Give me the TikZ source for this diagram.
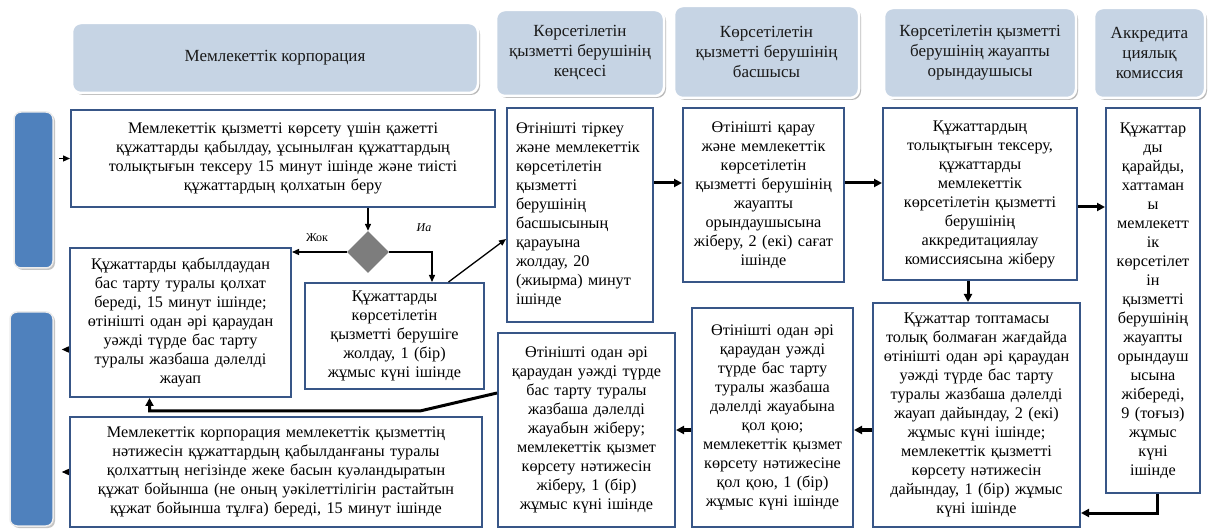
\documentclass[tikz,border=0pt]{standalone}
\usepackage{fontspec}
\setmainfont{Liberation Serif}
\usetikzlibrary{arrows.meta,shapes.geometric,shadows}
\definecolor{boxblue}{RGB}{56,86,135}
\definecolor{headfill}{RGB}{198,212,228}
\definecolor{barblue}{RGB}{79,129,189}
\definecolor{diagrey}{RGB}{125,125,125}
\tikzset{
  procbox/.style={draw=boxblue,line width=2pt,fill=white,align=center,inner sep=4pt,font=\fontsize{16.2}{19}\selectfont},
  headbox/.style={rounded corners=9pt,fill=headfill,draw=white,line width=2.5pt,align=center,
    font=\fontsize{17}{20}\selectfont,text=black!90,
    drop shadow={shadow xshift=2pt,shadow yshift=-2pt,fill=black!45,opacity=.6}},
  lanebar/.style={rounded corners=7pt,fill=barblue,draw=white!85!gray,line width=1.5pt,
    drop shadow={shadow xshift=2pt,shadow yshift=-2pt,fill=black!45,opacity=.5}},
  arr/.style={-{Triangle[length=7pt,width=6pt]},line width=1.3pt},
  thickarr/.style={-{Triangle[length=8pt,width=8pt]},line width=3pt},
}
\begin{document}
\begin{tikzpicture}[x=1pt,y=-1pt]
    \useasboundingbox (0,0) rectangle (1211,529);
    % headers
    \node[headbox,minimum width=406pt,minimum height=70pt] (hcorp) at (275,58) {Мемлекеттік корпорация};
    \node[headbox,minimum width=168pt,minimum height=86pt] (hkense) at (580,53) {Көрсетілетін\\қызметті берушінің\\кеңсесі};
    \node[headbox,minimum width=185pt,minimum height=92pt] (hbasshy) at (766.5,52) {Көрсетілетін\\қызметті берушінің\\басшысы};
    \node[headbox,minimum width=192pt,minimum height=90pt] (horyn) at (980,53) {Көрсетілетін қызметті\\берушінің жауапты\\орындаушысы};
    \node[headbox,minimum width=111pt,minimum height=90pt] (hkomis) at (1149.5,53) {Аккредита\\циялық\\комиссия};
    % lanes
    \node[lanebar,minimum width=39pt,minimum height=156pt] (lane1) at (33.5,190) {};
    \node[lanebar,minimum width=43pt,minimum height=214pt] (lane2) at (31.5,419) {};
    % steps
    \node[procbox,minimum width=424pt,minimum height=97pt,text width=410pt] (qabyl) at (283,158.5)
      {Мемлекеттік қызметті көрсету үшін қажетті\\құжаттарды қабылдау, ұсынылған құжаттардың\\толықтығын тексеру 15 минут ішінде және тиісті\\құжаттардың қолхатын беру};
    \node[diamond,fill=diagrey,minimum width=42pt,minimum height=42pt,inner sep=0pt] (dia) at (368,252) {};
    \node[procbox,minimum width=221pt,minimum height=149pt,text width=215pt,inner xsep=2pt] (bastart) at (180.5,322.5)
      {Құжаттарды қабылдаудан\\бас тарту туралы қолхат\\береді, 15 минут ішінде;\\өтінішті одан әрі қараудан\\уәжді түрде бас тарту\\туралы жазбаша дәлелді\\жауап};
    \node[procbox,minimum width=179pt,minimum height=106pt,text width=170pt] (zholdau) at (394.5,336)
      {Құжаттарды\\көрсетілетін\\қызметті берушіге\\жолдау, 1 (бір)\\жұмыс күні ішінде};
    \node[procbox,align=left,minimum width=146pt,minimum height=214pt,text width=128pt] (tirkeu) at (580,215)
      {Өтінішті тіркеу\\және мемлекеттік\\көрсетілетін\\қызметті\\берушінің\\басшысының\\қарауына\\жолдау, 20\\(жиырма) минут\\ішінде};
    \node[procbox,minimum width=161pt,minimum height=174pt,text width=155pt,inner xsep=2pt] (qarau) at (763.5,195)
      {Өтінішті қарау\\және мемлекеттік\\көрсетілетін\\қызметті берушінің\\жауапты\\орындаушысына\\жіберу, 2 (екі) сағат\\ішінде};
    \node[procbox,minimum width=194pt,minimum height=172pt,text width=186pt] (tekseru) at (980,194)
      {Құжаттардың\\толықтығын тексеру,\\құжаттарды\\мемлекеттік\\көрсетілетін қызметті\\берушінің\\аккредитациялау\\комиссиясына жіберу};
    \node[procbox,minimum width=94pt,minimum height=385pt,text width=88pt,inner sep=2pt] (komis) at (1153,300.5)
      {Құжаттар\\ды\\қарайды,\\хаттаман\\ы\\мемлекетт\\ік\\көрсетілет\\ін\\қызметті\\берушінің\\жауапты\\орындауш\\ысына\\жібереді,\\9 (тоғыз)\\жұмыс\\күні\\ішінде};
    \node[procbox,minimum width=207pt,minimum height=224pt,text width=204pt,inner xsep=1pt] (dayyn) at (976.5,415)
      {Құжаттар топтамасы\\толық болмаған жағдайда\\өтінішті одан әрі қараудан\\уәжді түрде бас тарту\\туралы жазбаша дәлелді\\жауап дайындау, 2 (екі)\\жұмыс күні ішінде;\\мемлекеттік қызметті\\көрсету нәтижесін\\дайындау, 1 (бір) жұмыс\\күні ішінде};
    \node[procbox,minimum width=161pt,minimum height=219pt,text width=156pt,inner xsep=2pt] (qolqoy) at (772.5,417.5)
      {Өтінішті одан әрі\\қараудан уәжді\\түрде бас тарту\\туралы жазбаша\\дәлелді жауабына\\қол қою;\\мемлекеттік қызмет\\көрсету нәтижесіне\\қол қою, 1 (бір)\\жұмыс күні ішінде};
    \node[procbox,minimum width=177pt,minimum height=194pt,text width=172pt,inner xsep=2pt] (zhiber) at (586.5,430)
      {Өтінішті одан әрі\\қараудан уәжді түрде\\бас тарту туралы\\жазбаша дәлелді\\жауабын жіберу;\\мемлекеттік қызмет\\көрсету нәтижесін\\жіберу, 1 (бір)\\жұмыс күні ішінде};
    \node[procbox,minimum width=412pt,minimum height=110pt,text width=404pt] (beredi) at (276,472)
      {Мемлекеттік корпорация мемлекеттік қызметтің\\нәтижесін құжаттардың қабылданғаны туралы\\қолхаттың негізінде жеке басын куәландыратын\\құжат бойынша (не оның уәкілеттілігін растайтын\\құжат бойынша тұлға) береді, 15 минут ішінде};
    % labels
    \node[font=\fontsize{12}{14}\selectfont] (zhok) at (317,238) {Жок};
    \node[font=\fontsize{12}{14}\selectfont\itshape] (ia) at (424,228) {Иа};
    % connectors
    \coordinate (lane1r) at ([xshift=5pt]lane1.east);
    \coordinate (lane2r) at ([xshift=8pt]lane2.east);
    \coordinate (iaturn) at (432,252);
    \coordinate (kink) at (420,411);
    \coordinate (b2in) at ([xshift=-31pt]bastart.south);
    \draw[arr] (lane1r |- qabyl.west) -- (qabyl.west);
    \draw[arr] (dia.north |- qabyl.south) -- (dia.north);
    \draw[arr] (dia.west) -- (dia.west -| bastart.east);
    \draw[arr] (dia.east) -- (iaturn) -- (iaturn |- zholdau.north);
    \draw[arr] ([xshift=54pt]zholdau.north) -- ([yshift=-24pt]tirkeu.west);
    \draw[thickarr] ([yshift=12pt]qarau.west -| tirkeu.east) -- ([yshift=12pt]qarau.west);
    \draw[thickarr] ([yshift=12pt]qarau.east) -- ([yshift=12pt]qarau.east -| tekseru.west);
    \draw[thickarr] ([yshift=-13pt]tekseru.east) -- ([yshift=-13pt]tekseru.east -| komis.west);
    \draw[thickarr] ([xshift=-12pt]tekseru.south) -- ([xshift=-12pt]tekseru.south |- dayyn.north);
    \draw[thickarr] ([xshift=4pt]komis.south) |- ([yshift=-98pt]dayyn.east);
    \draw[thickarr] ([yshift=-15pt]dayyn.west) -- ([yshift=-15pt]dayyn.west -| qolqoy.east);
    \draw[thickarr] (zhiber.east -| qolqoy.west) -- (zhiber.east);
    \draw[thickarr] ([yshift=37pt]zhiber.west) -- (kink) -- (kink -| b2in) -- (b2in);
    \draw[arr] ([yshift=-27pt]bastart.west) coordinate (o1) -- (o1 -| lane2r);
    \draw[arr] (beredi.west) -- (beredi.west -| lane2r);
  \end{tikzpicture}
\end{document}
